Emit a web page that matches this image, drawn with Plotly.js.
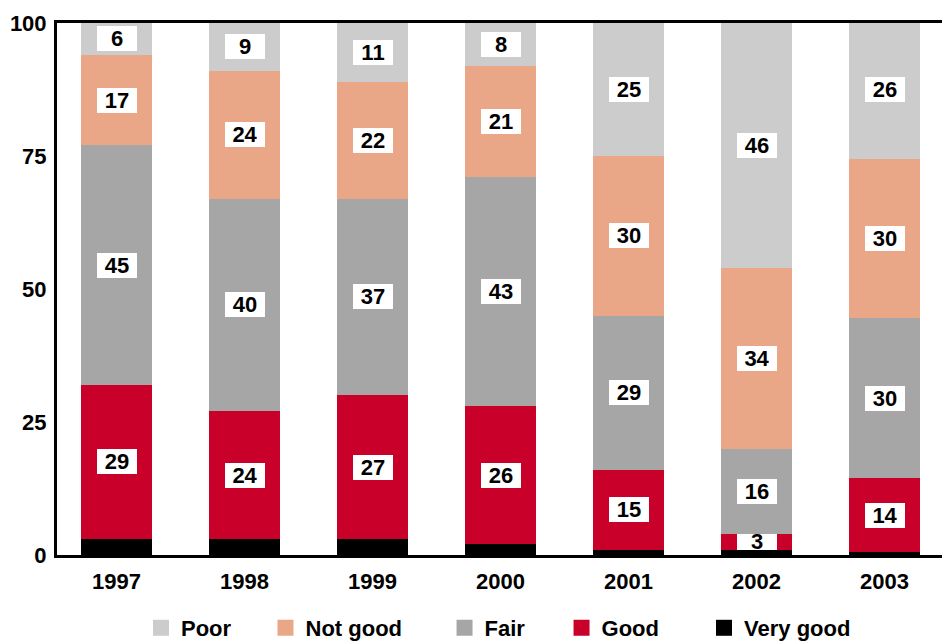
<!DOCTYPE html>
<html>
<head>
<meta charset="utf-8">
<script src="https://cdn.plot.ly/plotly-3.0.1.min.js"></script>
<style>html,body{margin:0;padding:0;background:#fff;}#chart{width:942px;height:641px;}</style>
</head>
<body>
<div id="chart"></div>
<script>
// ---- data ----
const years = ['1997', '1998', '1999', '2000', '2001', '2002', '2003'];
const veryGood = [3, 3, 3, 2, 1, 1, 0.5];
const good = [29, 24, 27, 26, 15, 3, 14];
const fair = [45, 40, 37, 43, 29, 16, 30];
const notGood = [17, 24, 22, 21, 30, 34, 30];
const poor = [6, 9, 11, 8, 25, 46, 26];
const yTicks = [0, 25, 50, 75, 100];

// ---- styling ----
const FONT = 'Liberation Sans, Arial, sans-serif';
const series = [
  {name: 'Very good', values: veryGood, color: '#000000', label: false, legend: 'legend5', lx: 0.7311},
  {name: 'Good', values: good, color: '#C8002A', label: true, legend: 'legend4', lx: 0.5701},
  {name: 'Fair', values: fair, color: '#A6A6A6', label: true, legend: 'legend3', lx: 0.4379},
  {name: 'Not good', values: notGood, color: '#E9A788', label: true, legend: 'legend2', lx: 0.2356},
  {name: 'Poor', values: poor, color: '#CCCCCC', label: true, legend: 'legend', lx: 0.0949}
];

const traces = series.map(s => ({
  type: 'bar', x: years, y: s.values, name: s.name,
  marker: {color: s.color, line: {width: 0}},
  showlegend: false, hoverinfo: 'skip'
}));
// legend entries (no marks drawn, only legend swatches)
series.forEach(s => {
  traces.push({
    type: 'scatter', mode: 'markers', x: [null], y: [null], name: s.name,
    marker: {symbol: 'square', size: 20, color: s.color, line: {width: 0}},
    legend: s.legend, hoverinfo: 'skip'
  });
});

const plotH = 532; // px for 100 units
const annotations = [];
const base = years.map(() => 0);
series.forEach(s => {
  s.values.forEach((v, i) => {
    if (s.label) {
      const segPx = v * plotH / 100;
      annotations.push({
        x: i, y: base[i] + v / 2, xref: 'x', yref: 'y',
        text: String(v), showarrow: false,
        bgcolor: '#ffffff', borderpad: 0, borderwidth: 0,
        width: 40, height: Math.min(25, segPx),
        font: {family: FONT, size: 22, color: '#000', weight: 700}
      });
    }
    base[i] += v;
  });
});

const legendBase = {
  orientation: 'h', yref: 'container', yanchor: 'middle', y: 0.0203, xanchor: 'left',
  itemsizing: 'trace',
  font: {family: FONT, size: 22, color: '#000', weight: 700},
  bgcolor: 'rgba(0,0,0,0)', borderwidth: 0
};
const layout = {
  width: 942, height: 641,
  margin: {l: 57, r: 0, t: 23, b: 86},
  paper_bgcolor: '#fff', plot_bgcolor: '#fff',
  barmode: 'stack', bargap: 0.445,
  showlegend: true,
  xaxis: {
    type: 'category', range: [-0.465, 6.449],
    showline: true, linecolor: '#000', linewidth: 3, mirror: true,
    ticks: '', ticklabelstandoff: 5,
    tickfont: {family: FONT, size: 22, color: '#000', weight: 700},
    showgrid: false, zeroline: false, fixedrange: true
  },
  yaxis: {
    range: [0, 100], tickvals: yTicks, ticktext: yTicks.map(String),
    showline: true, linecolor: '#000', linewidth: 3,
    ticks: '', ticklabelstandoff: 3,
    tickfont: {family: FONT, size: 22, color: '#000', weight: 700},
    showgrid: false, zeroline: false, fixedrange: true
  },
  annotations: annotations
};
series.forEach(s => {
  layout[s.legend] = Object.assign({}, legendBase, {x: s.lx});
});

Plotly.newPlot('chart', traces, layout, {displayModeBar: false, staticPlot: true});
</script>
</body>
</html>
